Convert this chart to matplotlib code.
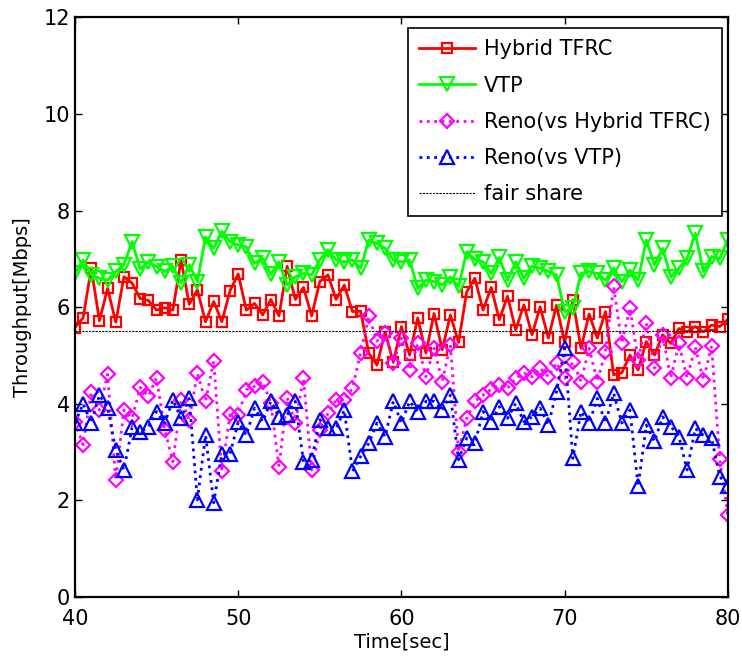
import numpy as np
import matplotlib
matplotlib.use('Agg')
import matplotlib.pyplot as plt

# sample times (every 0.5 s)
t = np.arange(81) * 0.5 + 40

hybrid_tfrc = [5.58, 5.78, 6.81, 5.72, 6.39, 5.69, 6.63, 6.50, 6.18, 6.14,
               5.94, 5.99, 5.94, 6.98, 6.06, 6.36, 5.70, 6.12, 5.70, 6.34,
               6.69, 5.94, 6.08, 5.84, 6.16, 5.82, 6.85, 6.16, 6.41, 5.82,
               6.53, 6.67, 6.16, 6.46, 5.91, 5.92, 5.05, 4.80, 5.49, 4.86,
               5.60, 5.01, 5.78, 5.05, 5.87, 5.12, 5.84, 5.27, 6.32, 6.60,
               5.94, 6.41, 5.74, 6.23, 5.53, 6.05, 5.43, 6.01, 5.36, 6.04,
               5.27, 6.15, 5.15, 5.86, 5.36, 5.91, 4.60, 4.64, 5.01, 4.70,
               5.29, 5.01, 5.43, 5.25, 5.56, 5.49, 5.60, 5.49, 5.63, 5.60,
               5.75]

vtp = [6.70, 6.98, 6.67, 6.60, 6.56, 6.74, 6.88, 7.36, 6.79, 6.94,
       6.84, 6.74, 6.85, 6.50, 6.88, 6.53, 7.46, 7.22, 7.57, 7.36,
       7.29, 7.25, 6.91, 7.01, 6.68, 6.94, 6.46, 6.63, 6.70, 6.67,
       6.98, 7.19, 6.98, 6.94, 6.98, 6.81, 7.39, 7.32, 7.22, 6.98,
       6.94, 6.98, 6.39, 6.56, 6.53, 6.46, 6.63, 6.43, 7.15, 6.99,
       6.94, 6.70, 7.03, 6.56, 6.94, 6.60, 6.85, 6.81, 6.74, 6.67,
       5.91, 5.98, 6.70, 6.74, 6.70, 6.56, 6.81, 6.53, 6.77, 6.56,
       7.39, 6.88, 7.22, 6.63, 6.81, 7.01, 7.53, 6.74, 7.05, 7.01,
       7.40]

reno_vs_hybrid = [3.63, 3.15, 4.24, 3.87, 4.61, 2.42, 3.87, 3.70, 4.34, 4.16,
                  4.54, 3.46, 2.80, 4.08, 3.67, 4.63, 4.05, 4.89, 2.60, 3.78,
                  3.77, 4.29, 4.36, 4.46, 4.02, 2.69, 4.13, 3.60, 4.53, 2.63,
                  3.46, 3.80, 4.08, 4.08, 4.32, 5.06, 5.81, 5.30, 5.46, 4.85,
                  5.36, 4.70, 5.25, 4.56, 5.15, 4.46, 5.22, 3.01, 3.70, 4.05,
                  4.18, 4.30, 4.39, 4.32, 4.53, 4.63, 4.56, 4.74, 4.56, 4.85,
                  4.53, 4.87, 4.46, 5.15, 4.46, 5.08, 6.43, 5.25, 5.99, 4.91,
                  5.67, 4.74, 5.43, 4.53, 5.25, 4.53, 5.18, 4.49, 5.20, 2.85,
                  1.70]

reno_vs_vtp = [3.60, 4.00, 3.60, 4.18, 3.92, 3.04, 2.63, 3.51, 3.42, 3.52,
               3.84, 3.60, 4.08, 3.70, 4.11, 2.01, 3.35, 1.95, 2.96, 2.96,
               3.62, 3.35, 3.91, 3.63, 4.05, 3.73, 3.77, 4.05, 2.80, 2.84,
               3.67, 3.49, 3.49, 3.87, 2.60, 2.91, 3.18, 3.60, 3.32, 4.05,
               3.60, 4.05, 3.84, 4.05, 4.05, 3.87, 4.18, 2.84, 3.29, 3.18,
               3.84, 3.63, 3.94, 3.70, 4.01, 3.63, 3.73, 3.91, 3.56, 4.25,
               5.15, 2.87, 3.84, 3.60, 4.11, 3.60, 4.22, 3.60, 3.87, 2.29,
               3.56, 3.22, 3.73, 3.53, 3.32, 2.63, 3.49, 3.35, 3.29, 2.49,
               2.30]

fair_share = 5.5

plt.rcParams['font.family'] = 'DejaVu Sans'

fig = plt.figure(figsize=(7.42, 6.60), dpi=100)
ax = fig.add_axes([0.101, 0.0955, 0.880, 0.878])

ms = 7.5
mew = 1.6
ax.plot(t, hybrid_tfrc, color='red', linestyle='-', linewidth=2.0, marker='s',
        markersize=ms, markerfacecolor='none', markeredgewidth=mew, label='Hybrid TFRC')
ax.plot(t, vtp, color='#00ff00', linestyle='-', linewidth=2.0, marker='v',
        markersize=ms + 2, markerfacecolor='none', markeredgewidth=mew, label='VTP')
ax.plot(t, reno_vs_hybrid, color='magenta', linestyle=':', linewidth=2.0, marker='D',
        markersize=ms - 0.5, markerfacecolor='none', markeredgewidth=mew,
        label='Reno(vs Hybrid TFRC)')
ax.plot(t, reno_vs_vtp, color='blue', linestyle=':', linewidth=2.0, marker='^',
        markersize=ms + 2, markerfacecolor='none', markeredgewidth=mew, label='Reno(vs VTP)')
ax.axhline(fair_share, color='black', linestyle=(0, (2, 1)), linewidth=0.8, label='fair share')

ax.set_xlim(40, 80)
ax.set_ylim(0, 12)
ax.set_xticks([40, 50, 60, 70, 80])
ax.set_yticks([0, 2, 4, 6, 8, 10, 12])
ax.tick_params(direction='in', top=True, right=True, labelsize=15, length=5, width=1)
ax.tick_params(axis='x', pad=9)
for s in ax.spines.values():
    s.set_linewidth(1.6)

ax.set_xlabel('Time[sec]', fontsize=14, labelpad=2)
ax.set_ylabel('Throughput[Mbps]', fontsize=14, labelpad=8)

leg = ax.legend(loc='upper right', bbox_to_anchor=(0.991, 0.982), borderaxespad=0,
                fontsize=15, fancybox=False, framealpha=1, edgecolor='black',
                handlelength=2.7, borderpad=0.55, labelspacing=0.78, handletextpad=0.4)
leg.get_frame().set_linewidth(1.2)

fig.savefig('out.png', dpi=100)
